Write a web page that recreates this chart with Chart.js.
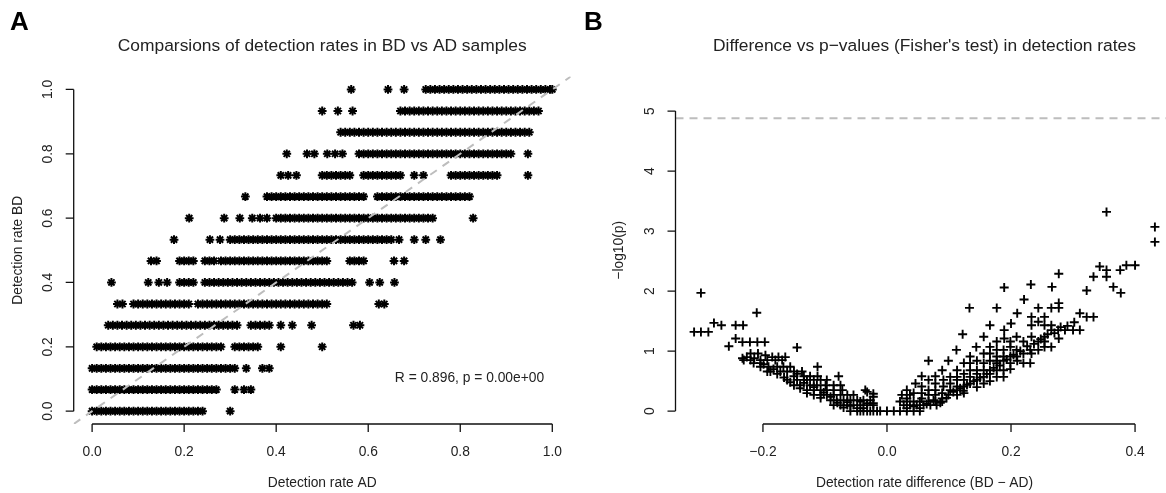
<!DOCTYPE html>
<html>
<head>
<meta charset="utf-8">
<script src="https://cdn.jsdelivr.net/npm/chart.js@4.4.0/dist/chart.umd.min.js"></script>
<style>
html,body{margin:0;padding:0;background:#fff;overflow:hidden;width:1166px;height:493px;}
#wrapA{position:absolute;left:0;top:0;width:583px;height:493px;}
#wrapB{position:absolute;left:583px;top:0;width:600px;height:493px;}
</style>
</head>
<body>
<div id="wrapA"><canvas id="chartA"></canvas></div>
<div id="wrapB"><canvas id="chartB"></canvas></div>
<script>
// ---- panel A : detection rate AD (x) for each BD detection level (y)
var bdLevels = [0, 0.067, 0.133, 0.2, 0.267, 0.333, 0.4, 0.467, 0.533, 0.6, 0.667, 0.733, 0.8, 0.867, 0.933, 1];

var adAtBd00 = [0,.01,.02,.03,.04,.05,.06,.07,.08,.09,.1,.11,.12,.13,.14,.15,.16,.17,.18,.19,.2,.21,.22,.23,.24,.3];
var adAtBd01 = [0,.01,.02,.03,.04,.05,.06,.07,.08,.09,.1,.11,.12,.13,.14,.15,.16,.17,.18,.19,.2,.21,.22,.23,.24,.25,.26,.27,.31,.33,.345];
var adAtBd02 = [0,.01,.02,.03,.04,.05,.06,.07,.08,.09,.1,.11,.12,.13,.14,.15,.16,.17,.18,.19,.2,.21,.22,.23,.24,.25,.26,.27,.28,.29,.3,.31,.335,.37,.385];
var adAtBd03 = [.01,.02,.03,.04,.05,.06,.07,.08,.09,.1,.11,.12,.13,.14,.15,.16,.17,.18,.19,.2,.21,.22,.23,.24,.25,.26,.27,.28,.31,.32,.33,.34,.35,.36,.41,.5];
var adAtBd04 = [.035,.045,.055,.065,.075,.085,.095,.105,.115,.125,.135,.145,.155,.165,.175,.185,.195,.205,.215,.225,.235,.245,.255,.265,.275,.285,.295,.305,.315,.345,.355,.365,.375,.385,.41,.435,.477,.568,.582];
var adAtBd05 = [.055,.066,.09,.1,.11,.12,.13,.14,.15,.16,.17,.18,.19,.2,.21,.23,.24,.25,.26,.27,.28,.29,.3,.31,.32,.33,.34,.35,.36,.37,.38,.39,.4,.41,.42,.43,.44,.45,.46,.47,.48,.49,.5,.51,.623,.635];
var adAtBd06 = [.042,.122,.145,.163,.19,.2,.21,.22,.245,.255,.265,.275,.285,.295,.305,.315,.325,.335,.345,.355,.365,.375,.385,.395,.405,.415,.425,.435,.445,.455,.465,.475,.485,.495,.505,.515,.525,.535,.545,.555,.565,.603,.625,.657];
var adAtBd07 = [.128,.14,.19,.2,.21,.22,.245,.255,.265,.28,.29,.3,.31,.32,.33,.34,.35,.36,.37,.38,.39,.4,.41,.42,.43,.44,.45,.46,.47,.48,.49,.5,.51,.56,.57,.58,.59,.656,.678];
var adAtBd08 = [.178,.256,.278,.3,.31,.32,.33,.34,.35,.36,.37,.38,.39,.4,.41,.42,.43,.44,.45,.46,.47,.48,.49,.5,.51,.52,.53,.54,.55,.56,.57,.58,.59,.6,.61,.62,.63,.64,.65,.667,.7,.725,.757];
var adAtBd09 = [.211,.287,.321,.348,.365,.38,.4,.41,.42,.43,.44,.45,.46,.47,.48,.49,.5,.51,.52,.53,.54,.55,.56,.57,.58,.59,.6,.61,.62,.63,.64,.65,.66,.67,.68,.69,.7,.71,.72,.73,.74,.828];
var adAtBd10 = [.333,.38,.39,.4,.41,.42,.43,.44,.45,.46,.47,.48,.49,.5,.51,.52,.53,.54,.55,.56,.57,.58,.59,.62,.63,.64,.65,.66,.67,.68,.69,.7,.71,.72,.73,.74,.75,.76,.77,.78,.79,.8,.81,.82];
var adAtBd11 = [.41,.426,.444,.5,.51,.52,.53,.54,.55,.56,.59,.6,.61,.62,.63,.64,.65,.66,.67,.7,.72,.78,.79,.8,.81,.82,.83,.84,.85,.86,.87,.88,.947];
var adAtBd12 = [.423,.467,.483,.511,.528,.544,.58,.59,.6,.61,.62,.63,.64,.65,.66,.67,.68,.69,.7,.71,.72,.73,.74,.75,.76,.77,.78,.79,.8,.81,.82,.83,.84,.85,.86,.87,.88,.89,.9,.91,.947];
var adAtBd13 = [.54,.55,.56,.57,.58,.59,.6,.61,.62,.63,.64,.65,.66,.67,.68,.69,.7,.71,.72,.73,.74,.75,.76,.77,.78,.79,.8,.81,.82,.83,.84,.85,.86,.87,.88,.89,.9,.91,.92,.93,.94,.95];
var adAtBd14 = [.5,.534,.566,.67,.68,.69,.7,.71,.72,.73,.74,.75,.76,.77,.78,.79,.8,.81,.82,.83,.84,.85,.86,.87,.88,.89,.9,.91,.92,.93,.94,.95,.96,.97];
var adAtBd15 = [.563,.643,.678,.725,.735,.745,.755,.765,.775,.785,.795,.805,.815,.825,.835,.845,.855,.865,.875,.885,.895,.905,.915,.925,.935,.945,.955,.965,.975,.985,.995,1];

var rateTicks = [0, 0.2, 0.4, 0.6, 0.8, 1];
var rateLimits = [-0.04, 1.04];
var corText = 'R = 0.896, p = 0.00e+00';

// ---- panel B : difference (BD - AD) vs -log10(p)
var diffNeg = [
  [-0.300,1.97],[-0.210,1.64],
  [-0.279,1.47],[-0.267,1.43],[-0.244,1.43],[-0.232,1.43],
  [-0.311,1.32],[-0.300,1.32],[-0.288,1.32],
  [-0.244,1.21],[-0.255,1.08],
  [-0.233,1.15],[-0.221,1.15],[-0.209,1.15],[-0.197,1.15],
  [-0.145,1.06],
  [-0.233,0.88],[-0.220,0.96],[-0.208,0.96],[-0.196,0.93],[-0.185,0.90],[-0.175,0.90],[-0.164,0.90],
  [-0.231,0.85],[-0.220,0.85],[-0.204,0.85],[-0.193,0.85],[-0.180,0.85],[-0.169,0.85],
  [-0.226,0.90],[-0.214,0.88],[-0.215,0.80],[-0.204,0.80],[-0.199,0.78],[-0.204,0.74],
  [-0.191,0.74],[-0.177,0.74],[-0.167,0.74],[-0.156,0.74],[-0.112,0.74],
  [-0.183,0.70],[-0.193,0.66],
  [-0.188,0.66],[-0.172,0.66],[-0.161,0.66],[-0.150,0.66],[-0.137,0.66],
  [-0.177,0.62],[-0.145,0.62],
  [-0.150,0.58],[-0.134,0.58],[-0.124,0.58],[-0.112,0.58],[-0.078,0.58],
  [-0.166,0.56],
  [-0.161,0.52],[-0.145,0.52],[-0.129,0.52],[-0.118,0.52],[-0.107,0.52],[-0.097,0.52],[-0.134,0.52],
  [-0.156,0.48],[-0.134,0.47],
  [-0.150,0.43],[-0.140,0.43],[-0.124,0.43],[-0.113,0.43],[-0.099,0.43],[-0.086,0.43],[-0.075,0.43],
  [-0.118,0.40],[-0.140,0.38],
  [-0.129,0.35],[-0.118,0.35],[-0.107,0.35],[-0.097,0.35],[-0.086,0.35],[-0.072,0.35],[-0.035,0.35],
  [-0.022,0.29],[-0.032,0.32],[-0.022,0.24],[-0.102,0.31],[-0.129,0.30],
  [-0.118,0.27],[-0.107,0.27],[-0.097,0.27],[-0.086,0.27],[-0.075,0.27],[-0.064,0.27],[-0.054,0.27],
  [-0.091,0.24],[-0.107,0.22],
  [-0.091,0.18],[-0.081,0.18],[-0.070,0.18],[-0.059,0.18],[-0.048,0.18],[-0.038,0.18],[-0.027,0.18],
  [-0.043,0.16],[-0.032,0.13],[-0.022,0.13],[-0.064,0.15],[-0.080,0.14],
  [-0.086,0.10],[-0.075,0.10],[-0.064,0.10],[-0.054,0.10],[-0.043,0.10],[-0.032,0.10],[-0.022,0.10],
  [-0.059,0.09],[-0.070,0.06],[-0.048,0.05],[-0.038,0.05],
  [-0.059,0],[-0.048,0],[-0.038,0],[-0.027,0],[-0.016,0],[-0.043,0],[-0.032,0],[-0.022,0],[-0.011,0],[0,0]
];
var diffPos = [
  [0.354,3.32],[0.432,3.07],[0.432,2.82],
  [0.386,2.43],[0.400,2.43],[0.343,2.41],[0.354,2.35],[0.376,2.35],[0.277,2.29],[0.333,2.24],[0.354,2.24],
  [0.232,2.11],[0.266,2.07],[0.365,2.07],[0.189,2.06],[0.322,2.01],[0.377,1.97],
  [0.221,1.86],[0.277,1.80],
  [0.133,1.72],[0.177,1.72],[0.244,1.72],[0.265,1.72],[0.277,1.72],
  [0.210,1.63],[0.311,1.63],
  [0.233,1.57],[0.254,1.57],[0.322,1.57],[0.333,1.57],
  [0.244,1.49],[0.200,1.46],[0.302,1.48],
  [0.166,1.43],[0.233,1.43],[0.254,1.43],[0.265,1.43],[0.291,1.42],[0.280,1.40],
  [0.189,1.35],[0.265,1.35],[0.276,1.35],[0.287,1.35],[0.300,1.35],[0.311,1.35],
  [0.122,1.28],[0.259,1.28],[0.270,1.30],
  [0.156,1.24],[0.209,1.24],[0.233,1.24],[0.254,1.24],
  [0.189,1.21],[0.277,1.21],[0.248,1.20],
  [0.177,1.16],[0.199,1.16],[0.220,1.16],[0.244,1.16],[0.254,1.16],
  [0.226,1.08],[0.237,1.12],
  [0.144,1.07],[0.166,1.07],[0.199,1.07],[0.254,1.07],[0.265,1.07],
  [0.112,1.02],[0.177,1.02],[0.188,1.02],[0.209,1.02],[0.231,1.02],[0.244,1.02],[0.215,1.00],
  [0.156,0.96],[0.166,0.96],[0.220,0.96],[0.233,0.96],[0.204,0.94],
  [0.134,0.91],[0.177,0.91],[0.188,0.91],[0.199,0.91],[0.209,0.91],[0.193,0.86],
  [0.067,0.84],[0.099,0.84],[0.145,0.84],[0.166,0.84],[0.177,0.84],[0.188,0.84],[0.210,0.84],
  [0.124,0.80],[0.134,0.80],[0.156,0.80],[0.177,0.80],[0.199,0.80],[0.220,0.80],[0.231,0.80],
  [0.182,0.76],[0.172,0.72],[0.199,0.70],
  [0.089,0.68],[0.113,0.68],[0.134,0.68],[0.145,0.68],[0.156,0.68],[0.166,0.68],[0.177,0.68],[0.188,0.68],
  [0.124,0.62],[0.145,0.62],[0.166,0.62],[0.161,0.62],
  [0.056,0.58],[0.078,0.58],
  [0.102,0.57],[0.113,0.57],[0.134,0.57],[0.156,0.57],[0.177,0.57],[0.188,0.57],[0.150,0.56],
  [0.067,0.52],[0.091,0.52],[0.113,0.52],[0.124,0.52],[0.145,0.52],[0.140,0.50],[0.166,0.50],
  [0.046,0.46],[0.078,0.46],[0.102,0.46],[0.134,0.46],[0.156,0.46],[0.129,0.44],
  [0.056,0.41],[0.091,0.41],[0.113,0.41],[0.124,0.41],[0.145,0.40],[0.118,0.38],
  [0.032,0.35],[0.067,0.35],[0.078,0.35],[0.102,0.35],[0.113,0.35],[0.123,0.34],
  [0.043,0.30],[0.056,0.30],[0.089,0.30],[0.124,0.30],[0.107,0.32],
  [0.024,0.27],[0.037,0.27],[0.067,0.27],[0.078,0.27],[0.099,0.27],[0.113,0.27],
  [0.032,0.21],[0.056,0.21],[0.089,0.21],[0.096,0.22],[0.075,0.18],
  [0.021,0.16],[0.032,0.16],[0.043,0.16],[0.053,0.16],[0.067,0.16],[0.078,0.16],[0.089,0.16],
  [0.086,0.14],[0.064,0.12],
  [0.027,0.10],[0.037,0.10],[0.048,0.10],[0.059,0.10],[0.070,0.10],[0.080,0.10],
  [0.043,0.08],[0.032,0.05],[0.053,0.05],
  [0.011,0],[0.021,0],[0.032,0],[0.043,0],[0.053,0]
];
var diffTicks = [-0.2, 0, 0.2, 0.4];
var logpTicks = [0, 1, 2, 3, 4, 5];
var diffLimits = [-0.341, 0.462];
var logpLimits = [-0.215, 5.575];
var sigLine = 4.88;

var FONT = '"Liberation Sans", Arial, Helvetica, sans-serif';

// R style axes, labels and titles drawn through the chart scales
var rAxes = {
  id: 'rAxes',
  afterDraw: function(chart, args, o) {
    var ctx = chart.ctx, a = chart.chartArea, sx = chart.scales.x, sy = chart.scales.y;
    ctx.save();
    ctx.strokeStyle = '#111';
    ctx.lineWidth = 1.3;
    ctx.beginPath();
    var xf = sx.getPixelForValue(o.xTicks[0]), xl = sx.getPixelForValue(o.xTicks[o.xTicks.length - 1]);
    ctx.moveTo(xf, a.bottom); ctx.lineTo(xl, a.bottom);
    o.xTicks.forEach(function(v) {
      var p = sx.getPixelForValue(v);
      ctx.moveTo(p, a.bottom); ctx.lineTo(p, a.bottom + 8);
    });
    var yf = sy.getPixelForValue(o.yTicks[0]), yl = sy.getPixelForValue(o.yTicks[o.yTicks.length - 1]);
    ctx.moveTo(a.left, yf); ctx.lineTo(a.left, yl);
    o.yTicks.forEach(function(v) {
      var p = sy.getPixelForValue(v);
      ctx.moveTo(a.left, p); ctx.lineTo(a.left - 8, p);
    });
    ctx.stroke();

    ctx.fillStyle = '#222';
    ctx.textAlign = 'center';
    ctx.textBaseline = 'middle';
    ctx.font = '13.8px ' + FONT;
    o.xTicks.forEach(function(v) {
      ctx.fillText(o.fmtX(v), sx.getPixelForValue(v), a.bottom + 28);
    });
    o.yTicks.forEach(function(v) {
      ctx.save();
      ctx.translate(a.left - 25.5, sy.getPixelForValue(v));
      ctx.rotate(-Math.PI / 2);
      ctx.fillText(o.fmtY(v), 0, 0);
      ctx.restore();
    });
    ctx.fillText(o.xTitle, (a.left + a.right) / 2, a.bottom + 59);
    ctx.save();
    ctx.translate(a.left - 56, (a.top + a.bottom) / 2);
    ctx.rotate(-Math.PI / 2);
    ctx.fillText(o.yTitle, 0, 0);
    ctx.restore();
    if (o.note) {
      ctx.fillText(o.note.text, sx.getPixelForValue(o.note.x), sy.getPixelForValue(o.note.y));
    }

    ctx.font = '17.4px ' + FONT;
    ctx.fillText(o.main, (a.left + a.right) / 2, 46);
    ctx.font = 'bold 26px ' + FONT;
    ctx.textAlign = 'left';
    ctx.fillStyle = '#000';
    ctx.fillText(o.letter, o.letterX, 23);
    ctx.restore();
  }
};

function fmt1(v) { return (v < 0 ? '\u2212' : '') + Math.abs(v).toFixed(1); }

// build panel A points from the rows
var adRows = [adAtBd00, adAtBd01, adAtBd02, adAtBd03, adAtBd04, adAtBd05, adAtBd06, adAtBd07,
              adAtBd08, adAtBd09, adAtBd10, adAtBd11, adAtBd12, adAtBd13, adAtBd14, adAtBd15];
var ptsA = [];
adRows.forEach(function(row, i) {
  row.forEach(function(v) { ptsA.push({x: v, y: bdLevels[i]}); });
});

new Chart(document.getElementById('chartA'), {
  type: 'scatter',
  data: {
    datasets: [{
      type: 'line',
      data: [{x: rateLimits[0], y: rateLimits[0]}, {x: rateLimits[1], y: rateLimits[1]}],
      borderColor: '#bdbdbd',
      borderWidth: 2,
      borderDash: [8, 7],
      pointRadius: 0,
      fill: false
    }, {
      data: ptsA,
      pointStyle: 'star',
      pointRadius: 4.4,
      borderColor: '#000',
      backgroundColor: '#000',
      borderWidth: 2
    }]
  },
  options: {
    responsive: true,
    maintainAspectRatio: false,
    animation: false,
    events: [],
    layout: {padding: {left: 73.7, right: 12.3, top: 76.6, bottom: 69}},
    scales: {
      x: {type: 'linear', min: rateLimits[0], max: rateLimits[1], display: false},
      y: {type: 'linear', min: rateLimits[0], max: rateLimits[1], display: false}
    },
    plugins: {
      legend: {display: false},
      tooltip: {enabled: false},
      rAxes: {
        xTicks: rateTicks, yTicks: rateTicks, fmtX: fmt1, fmtY: fmt1,
        xTitle: 'Detection rate AD', yTitle: 'Detection rate BD',
        main: 'Comparsions of detection rates in BD vs AD samples',
        letter: 'A', letterX: 10,
        note: {text: corText, x: 0.82, y: 0.103}
      }
    }
  },
  plugins: [rAxes]
});

var ptsB = diffNeg.concat(diffPos).map(function(p) { return {x: p[0], y: p[1]}; });

new Chart(document.getElementById('chartB'), {
  type: 'scatter',
  data: {
    datasets: [{
      type: 'line',
      data: [{x: diffLimits[0], y: sigLine}, {x: diffLimits[1], y: sigLine}],
      borderColor: '#bdbdbd',
      borderWidth: 2,
      borderDash: [8, 6],
      pointRadius: 0,
      fill: false
    }, {
      data: ptsB,
      pointStyle: 'cross',
      pointRadius: 4.5,
      borderColor: '#000',
      backgroundColor: '#000',
      borderWidth: 1.9
    }]
  },
  options: {
    responsive: true,
    maintainAspectRatio: false,
    animation: false,
    events: [],
    layout: {padding: {left: 92.5, right: 9.5, top: 76.6, bottom: 69}},
    scales: {
      x: {type: 'linear', min: diffLimits[0], max: diffLimits[1], display: false},
      y: {type: 'linear', min: logpLimits[0], max: logpLimits[1], display: false}
    },
    plugins: {
      legend: {display: false},
      tooltip: {enabled: false},
      rAxes: {
        xTicks: diffTicks, yTicks: logpTicks, fmtX: fmt1, fmtY: function(v) { return String(v); },
        xTitle: 'Detection rate difference (BD \u2212 AD)', yTitle: '\u2212log10(p)',
        main: "Difference vs p\u2212values (Fisher's test) in detection rates",
        letter: 'B', letterX: 1
      }
    }
  },
  plugins: [rAxes]
});
</script>
</body>
</html>
